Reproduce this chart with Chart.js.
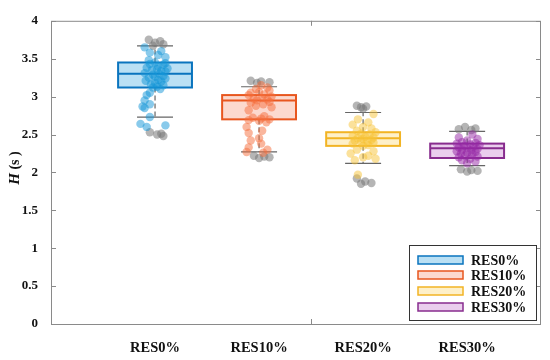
<!DOCTYPE html>
<html>
<head>
<meta charset="utf-8">
<script src="https://cdn.jsdelivr.net/npm/chart.js@4/dist/chart.umd.min.js"></script>
<style>
	html, body { margin: 0; padding: 0; background: #fff; }
	#wrap { width: 550px; height: 360px; }
</style>
</head>
<body>
<div id="wrap"><canvas id="chart"></canvas></div>
<script>
// categories and axis
const categories = ['RES0%', 'RES10%', 'RES20%', 'RES30%'];
const yTicks = [0, 0.5, 1, 1.5, 2, 2.5, 3, 3.5, 4];
const xFrameTicks = [2.5];

// box statistics, one entry per category
const lowerWhisker = [2.73, 2.27, 2.12, 2.09];
const quartile1 = [3.12, 2.70, 2.35, 2.19];
const median = [3.30, 2.95, 2.45, 2.32];
const quartile3 = [3.45, 3.02, 2.53, 2.38];
const upperWhisker = [3.67, 3.13, 2.79, 2.54];

// scattered samples (value + horizontal jitter)
const res0Values = [3.65, 3.60, 3.58, 3.55, 3.52, 3.48, 3.45, 3.44, 3.43, 3.42, 3.40, 3.38, 3.37, 3.36, 3.35, 3.34, 3.33, 3.31, 3.30, 3.29, 3.27, 3.26, 3.25, 3.24, 3.22, 3.21, 3.20, 3.18, 3.16, 3.15, 3.13, 3.12, 3.10, 3.05, 3.02, 2.95, 2.90, 2.87, 2.85, 2.73, 2.64, 2.60, 2.62];
const res0Jitter = [-0.10, 0.06, -0.05, 0.03, 0.10, -0.06, 0.00, 0.10, -0.05, 0.08, 0.03, -0.08, 0.12, 0.02, -0.03, 0.06, 0.10, -0.10, 0.04, -0.02, 0.08, 0.00, -0.06, 0.10, 0.03, -0.09, 0.06, 0.00, -0.04, 0.08, 0.02, -0.02, 0.05, -0.05, -0.08, -0.10, -0.05, -0.12, -0.10, -0.05, -0.14, -0.08, 0.10];
const res0Outliers = [3.75, 3.73, 3.71, 3.69, 3.67, 2.53, 2.50, 2.48, 2.51];
const res0OutlierJitter = [-0.06, 0.05, 0.00, 0.08, -0.02, -0.05, 0.02, 0.08, 0.06];

const res10Values = [3.15, 3.12, 3.10, 3.08, 3.06, 3.05, 3.03, 3.02, 3.00, 2.98, 2.97, 2.96, 2.95, 2.93, 2.92, 2.90, 2.88, 2.86, 2.82, 2.74, 2.72, 2.71, 2.70, 2.69, 2.68, 2.66, 2.60, 2.55, 2.52, 2.45, 2.42, 2.38, 2.33, 2.30, 2.27, 2.26];
const res10Jitter = [0.02, 0.08, -0.03, 0.10, 0.00, -0.08, 0.05, -0.10, 0.12, 0.03, -0.05, 0.08, -0.02, 0.10, -0.08, 0.04, -0.03, 0.12, -0.10, 0.05, -0.06, 0.02, 0.10, -0.10, 0.00, 0.07, -0.12, 0.03, -0.10, 0.00, -0.08, 0.02, -0.10, 0.08, -0.12, 0.04];
const res10Outliers = [3.21, 3.20, 3.19, 3.18, 2.22, 2.21, 2.20, 2.19];
const res10OutlierJitter = [-0.08, 0.02, 0.10, -0.02, -0.05, 0.05, 0.10, 0.00];

const res20Values = [2.77, 2.70, 2.66, 2.63, 2.60, 2.58, 2.55, 2.53, 2.51, 2.50, 2.48, 2.47, 2.46, 2.45, 2.44, 2.43, 2.42, 2.41, 2.40, 2.39, 2.38, 2.36, 2.35, 2.30, 2.28, 2.25, 2.22, 2.20, 2.18, 2.16, 1.97];
const res20Jitter = [0.10, -0.05, 0.05, -0.10, 0.00, 0.08, -0.06, 0.12, -0.02, 0.06, -0.10, 0.02, 0.10, -0.05, 0.00, 0.08, -0.08, 0.04, -0.02, 0.10, -0.10, 0.05, 0.00, -0.06, 0.10, -0.12, 0.05, 0.00, 0.12, -0.08, -0.05];
const res20Outliers = [2.88, 2.87, 2.86, 2.84, 1.92, 1.88, 1.86, 1.85];
const res20OutlierJitter = [-0.06, 0.03, -0.02, 0.00, -0.06, 0.02, 0.08, -0.02];

const res30Values = [2.50, 2.46, 2.44, 2.42, 2.40, 2.39, 2.38, 2.37, 2.36, 2.35, 2.34, 2.33, 2.32, 2.31, 2.30, 2.29, 2.28, 2.27, 2.26, 2.25, 2.24, 2.22, 2.21, 2.20, 2.18, 2.16, 2.14, 2.12];
const res30Jitter = [0.05, -0.08, 0.10, 0.00, -0.05, 0.08, -0.10, 0.03, 0.12, -0.03, 0.06, -0.08, 0.00, 0.10, -0.05, 0.04, -0.10, 0.08, 0.00, -0.06, 0.05, -0.02, 0.10, -0.08, 0.03, -0.05, 0.08, 0.00];
const res30Outliers = [2.60, 2.58, 2.57, 2.56, 2.04, 2.03, 2.02, 2.01];
const res30OutlierJitter = [-0.02, 0.08, -0.08, 0.04, -0.06, 0.04, 0.10, 0.00];

const groupValues = [res0Values, res10Values, res20Values, res30Values];
const groupJitter = [res0Jitter, res10Jitter, res20Jitter, res30Jitter];
const groupOutliers = [res0Outliers, res10Outliers, res20Outliers, res30Outliers];
const groupOutlierJitter = [res0OutlierJitter, res10OutlierJitter, res20OutlierJitter, res30OutlierJitter];

// styles
const strokeColors = ['#0A74BE', '#E8561E', '#F2B424', '#882C8E'];
const boxFills = ['rgba(40,160,220,0.32)', 'rgba(245,120,80,0.28)', 'rgba(250,200,60,0.28)', 'rgba(180,80,190,0.28)'];
const pointColors = ['rgba(20,150,215,0.5)', 'rgba(245,110,60,0.5)', 'rgba(248,195,55,0.5)', 'rgba(150,40,165,0.5)'];
const outlierColor = 'rgba(120,120,120,0.55)';
const FONT = '"Liberation Serif", "Times New Roman", serif';
const BOX_HALF = 0.355;
const CAP_HALF = 0.173;

const toPoints = (values, jitter, i) => values.map((v, k) => ({ x: i + 1 + jitter[k], y: v }));

const datasets = [];
categories.forEach((name, i) => {
	datasets.push({
		label: name,
		data: toPoints(groupValues[i], groupJitter[i], i),
		backgroundColor: pointColors[i],
		borderWidth: 0,
		pointRadius: 4.2,
	});
	datasets.push({
		label: name + ' outliers',
		data: toPoints(groupOutliers[i], groupOutlierJitter[i], i),
		backgroundColor: outlierColor,
		borderWidth: 0,
		pointRadius: 4.2,
	});
});

const boxPlugin = {
	id: 'boxes',
	beforeDatasetsDraw(chart) {
		const ctx = chart.ctx;
		const xs = chart.scales.x;
		const ys = chart.scales.y;
		ctx.save();
		categories.forEach((name, i) => {
			const c = i + 1;
			const xl = xs.getPixelForValue(c - BOX_HALF);
			const xr = xs.getPixelForValue(c + BOX_HALF);
			const xc = xs.getPixelForValue(c);
			const cl = xs.getPixelForValue(c - CAP_HALF);
			const cr = xs.getPixelForValue(c + CAP_HALF);
			const yq1 = ys.getPixelForValue(quartile1[i]);
			const yq3 = ys.getPixelForValue(quartile3[i]);
			const ym = ys.getPixelForValue(median[i]);
			const ylo = ys.getPixelForValue(lowerWhisker[i]);
			const yhi = ys.getPixelForValue(upperWhisker[i]);

			// whiskers
			ctx.strokeStyle = '#666';
			ctx.lineWidth = 1.2;
			ctx.setLineDash([5, 3]);
			ctx.beginPath();
			ctx.moveTo(xc, yq3); ctx.lineTo(xc, yhi);
			ctx.moveTo(xc, yq1); ctx.lineTo(xc, ylo);
			ctx.stroke();
			ctx.setLineDash([]);
			ctx.beginPath();
			ctx.moveTo(cl, yhi); ctx.lineTo(cr, yhi);
			ctx.moveTo(cl, ylo); ctx.lineTo(cr, ylo);
			ctx.stroke();

			// box
			ctx.fillStyle = boxFills[i];
			ctx.fillRect(xl, yq3, xr - xl, yq1 - yq3);
			ctx.strokeStyle = strokeColors[i];
			ctx.lineWidth = 2;
			ctx.strokeRect(xl, yq3, xr - xl, yq1 - yq3);
			ctx.beginPath();
			ctx.moveTo(xl, ym); ctx.lineTo(xr, ym);
			ctx.stroke();
		});
		ctx.restore();
	},
	afterDraw(chart) {
		const ctx = chart.ctx;
		const a = chart.chartArea;
		const xs = chart.scales.x;
		const ys = chart.scales.y;
		ctx.save();

		// frame with inward ticks
		ctx.strokeStyle = '#8a8a8a';
		ctx.lineWidth = 1;
		ctx.strokeRect(a.left + 0.5, a.top + 0.5, a.right - a.left - 1, a.bottom - a.top);
		ctx.beginPath();
		yTicks.forEach(t => {
			const y = Math.round(ys.getPixelForValue(t)) + 0.5;
			ctx.moveTo(a.left, y); ctx.lineTo(a.left + 5, y);
			ctx.moveTo(a.right, y); ctx.lineTo(a.right - 5, y);
		});
		xFrameTicks.forEach(t => {
			const x = Math.round(xs.getPixelForValue(t)) + 0.5;
			ctx.moveTo(x, a.top); ctx.lineTo(x, a.top + 5);
			ctx.moveTo(x, a.bottom); ctx.lineTo(x, a.bottom - 5);
		});
		ctx.stroke();

		// y axis title: H (s)
		ctx.translate(15, 168);
		ctx.rotate(-Math.PI / 2);
		ctx.fillStyle = '#111';
		ctx.textBaseline = 'middle';
		ctx.textAlign = 'left';
		ctx.font = 'italic bold 15px ' + FONT;
		const hw = ctx.measureText('H').width;
		ctx.font = 'bold 14px ' + FONT;
		const sw = ctx.measureText(' (s )').width;
		const start = -(hw + sw) / 2;
		ctx.font = 'italic bold 15px ' + FONT;
		ctx.fillText('H', start, 0);
		ctx.font = 'bold 14px ' + FONT;
		ctx.fillText(' (s )', start + hw, 0);
		ctx.setTransform(1, 0, 0, 1, 0, 0);

		// legend
		const lx = 409, ly = 245, lw = 127, lh = 75;
		ctx.fillStyle = '#fff';
		ctx.fillRect(lx, ly, lw, lh);
		ctx.strokeStyle = '#333';
		ctx.lineWidth = 1;
		ctx.strokeRect(lx + 0.5, ly + 0.5, lw, lh);
		const rows = [260, 275, 291, 307];
		categories.forEach((name, i) => {
			const ry = rows[i];
			ctx.fillStyle = '#fff';
			ctx.fillRect(418, ry - 4, 45, 8);
			ctx.fillStyle = boxFills[i];
			ctx.fillRect(418, ry - 4, 45, 8);
			ctx.strokeStyle = strokeColors[i];
			ctx.lineWidth = 1.5;
			ctx.strokeRect(418, ry - 4, 45, 8);
			ctx.fillStyle = '#111';
			ctx.font = 'bold 14px ' + FONT;
			ctx.textAlign = 'left';
			ctx.textBaseline = 'middle';
			ctx.fillText(name, 471, ry + 1);
		});
		ctx.restore();
	}
};

new Chart(document.getElementById('chart'), {
	type: 'scatter',
	data: { datasets },
	options: {
		responsive: true,
		maintainAspectRatio: false,
		animation: false,
		layout: { padding: { top: 11, right: 9, left: 0, bottom: 0 } },
		plugins: { legend: { display: false }, tooltip: { enabled: false } },
		scales: {
			x: {
				type: 'linear',
				min: 0,
				max: 4.71,
				afterBuildTicks: scale => { scale.ticks = categories.map((c, i) => ({ value: i + 1 })); },
				afterFit: scale => { scale.height = 36; },
				grid: { display: false, drawTicks: false },
				border: { display: false },
				ticks: {
					padding: 16,
					color: '#111',
					font: { family: FONT, size: 14.5, weight: 'bold' },
					callback: v => categories[Math.round(v) - 1],
				},
			},
			y: {
				min: 0,
				max: 4,
				afterBuildTicks: scale => { scale.ticks = yTicks.map(v => ({ value: v })); },
				afterFit: scale => { scale.width = 51; },
				grid: { display: false, drawTicks: false },
				border: { display: false },
				ticks: {
					padding: 13,
					color: '#111',
					font: { family: FONT, size: 13, weight: 'bold' },
					callback: v => String(v),
				},
			},
		},
	},
	plugins: [boxPlugin],
});
</script>
</body>
</html>
